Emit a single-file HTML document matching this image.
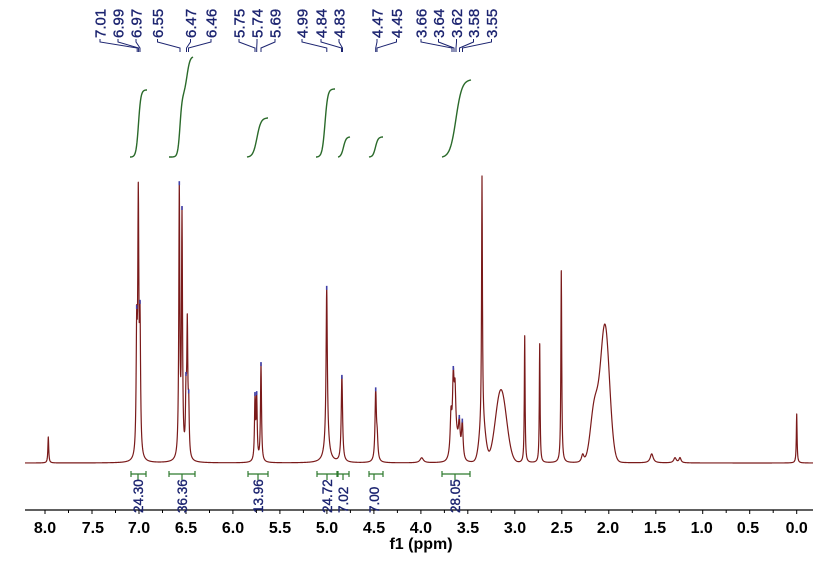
<!DOCTYPE html>
<html><head><meta charset="utf-8"><style>
html,body{margin:0;padding:0;background:#fff;}
svg{display:block;font-family:"Liberation Sans",Arial,sans-serif;}
</style></head><body>
<svg id="c" width="822" height="566" viewBox="0 0 822 566" xmlns="http://www.w3.org/2000/svg">
<rect width="822" height="566" fill="#fff"/>
<g id="ints" fill="none" stroke="#2a6a2a" stroke-width="1.4"></g>
<path id="spec" fill="none" stroke="#7a1a1a" stroke-width="1.2" stroke-linejoin="round"/>
<g id="marks" fill="#4040a8"></g>
<g id="pcon" fill="none" stroke="#1c2470" stroke-width="1"></g>
<g id="ibar" fill="none" stroke="#2f7a2f" stroke-width="1.2"></g>
<line x1="25" y1="510" x2="813" y2="510" stroke="#000" stroke-width="1.2"/>
<g id="ticks" stroke="#000" stroke-width="1"></g>
<g font-size="16" font-weight="bold" fill="#000" text-anchor="middle">
<text x="45" y="533">8.0</text><text x="92.9" y="533">7.5</text><text x="139.0" y="533">7.0</text><text x="186" y="533">6.5</text><text x="233" y="533">6.0</text><text x="280" y="533">5.5</text><text x="327" y="533">5.0</text><text x="374" y="533">4.5</text><text x="420.9" y="533">4.0</text><text x="468" y="533">3.5</text><text x="515" y="533">3.0</text><text x="561.7" y="533">2.5</text><text x="608" y="533">2.0</text><text x="655" y="533">1.5</text><text x="701.7" y="533">1.0</text><text x="748" y="533">0.5</text><text x="796.7" y="533">0.0</text>
<text x="421" y="549">f1 (ppm)</text>
</g>
<g fill="#1c2470" stroke="#1c2470" stroke-width="0.35" font-size="15">
<text transform="translate(105.5,38) rotate(-90)">7.01</text>
<text transform="translate(123.5,38) rotate(-90)">6.99</text>
<text transform="translate(141.5,38) rotate(-90)">6.97</text>
<text transform="translate(163,38) rotate(-90)">6.55</text>
<text transform="translate(196,38) rotate(-90)">6.47</text>
<text transform="translate(216.5,38) rotate(-90)">6.46</text>
<text transform="translate(244.5,38) rotate(-90)">5.75</text>
<text transform="translate(262.5,38) rotate(-90)">5.74</text>
<text transform="translate(280.5,38) rotate(-90)">5.69</text>
<text transform="translate(307.5,38) rotate(-90)">4.99</text>
<text transform="translate(326.5,38) rotate(-90)">4.84</text>
<text transform="translate(344.5,38) rotate(-90)">4.83</text>
<text transform="translate(382.5,38) rotate(-90)">4.47</text>
<text transform="translate(402,38) rotate(-90)">4.45</text>
<text transform="translate(426.5,38) rotate(-90)">3.66</text>
<text transform="translate(444,38) rotate(-90)">3.64</text>
<text transform="translate(462,38) rotate(-90)">3.62</text>
<text transform="translate(479,38) rotate(-90)">3.58</text>
<text transform="translate(497,38) rotate(-90)">3.55</text>
</g>
<g fill="#1c2470" stroke="#1c2470" stroke-width="0.35" font-size="13.5">
<text transform="translate(142.8,513) rotate(-90)">24.30</text>
<text transform="translate(186.8,513) rotate(-90)">36.36</text>
<text transform="translate(262.8,513) rotate(-90)">13.96</text>
<text transform="translate(331.8,513) rotate(-90)">24.72</text>
<text transform="translate(347.8,513) rotate(-90)">7.02</text>
<text transform="translate(378.8,513) rotate(-90)">7.00</text>
<text transform="translate(459.8,513) rotate(-90)">28.05</text>
</g>
</svg>
<script>
(function(){
var NS="http://www.w3.org/2000/svg";
function el(p,n,a){var e=document.createElementNS(NS,n);for(var k in a)e.setAttribute(k,a[k]);document.getElementById(p).appendChild(e);return e;}
var B=463;
var L=[[48.3,26,0.5],[136.7,117,0.65],[138.3,248,0.65],[140.0,126,0.65],
[179.3,268,0.6],[182,240,0.6],[186,58,0.6],[187.3,127,0.6],[188.7,47,0.6],
[255,62,0.6],[256.7,62,0.6],[261,98,0.6],
[326.7,150,0.7],[326.9,26,2.5],[341.9,86,0.8],[375.7,70,0.8],[377.2,20,0.8],
[421.7,5,2],
[451,36,0.9],[453.3,62,0.9],[455,46,0.9],[459.3,28,0.9],[462.3,36,0.9],
[482,249,0.5],[524.7,127,0.45],[539.7,119,0.45],[561.3,192,0.5],
[582.7,8,1.5],[605,5,6],[651.7,9,1.8],[675,5,1.5],[680,5,1.2],[796.7,49,0.45]];
var G=[[455.5,22,3.5],[482.5,38,3],[501,73,5.5],[605,132,4.5],[594.5,55,4]];
function f(x){var y=0,i,t;for(i=0;i<L.length;i++){t=(x-L[i][0])/L[i][2];y+=L[i][1]/(1+t*t);}for(i=0;i<G.length;i++){t=(x-G[i][0])/G[i][2];y+=G[i][1]*Math.exp(-0.5*t*t);}return y;}
var xs=[];for(var x=25;x<=813;x+=0.25)xs.push(x);
L.forEach(function(p){xs.push(p[0]);});xs.sort(function(a,b){return a-b;});
var d="";xs.forEach(function(x,i){d+=(i?"L":"M")+x.toFixed(2)+" "+(B-f(x)).toFixed(2);});
document.getElementById("spec").setAttribute("d",d);
[136.7,140.0,179.3,182,186,188.7,255,256.7,261,326.7,341.9,375.7,453.3,459.3,462.3].forEach(function(x){var y=B-f(x);el("marks","rect",{x:x-0.8,y:y-1,width:1.6,height:4});});
function sg(u){return 1/(1+Math.exp(-u));}
function integ(x0,x1,yb,steps){var d="";for(var x=x0;x<=x1+0.01;x+=0.5){var y=yb;steps.forEach(function(s){var a=sg((x0-s[0])/s[2]),b=sg((x1-s[0])/s[2]);y-=s[1]*(sg((x-s[0])/s[2])-a)/(b-a);});d+=(d?"L":"M")+x.toFixed(1)+" "+y.toFixed(1);}el("ints","path",{d:d});}
integ(130,147,157,[[138.5,67,1.2]]);
integ(169,193,157,[[180,62,1.1],[187,38,1.5]]);
integ(247,268,157,[[257,39,2.0]]);
integ(316,335,157,[[325,68,1.4]]);
integ(338,350,157,[[343.5,20,1.3]]);
integ(369,383,157,[[375.5,20,1.3]]);
integ(442,471,157,[[456,77,3.0]]);
var C=[[100,137.2],[118,138.6],[136,140],[157.5,180],[190.5,186.5],[211,188.5],[239,255],[257,256.7],[275,261],[302,326.8],[321,341.5],[339,342.5],[377,375.7],[396.5,377],[421,452],[438.5,454],[456.5,456],[473.5,459.5],[491.5,462.5]];
C.forEach(function(c){el("pcon","path",{d:"M"+c[0]+" 39L"+c[0]+" 42L"+c[1]+" 48L"+c[1]+" 52"});});
[[131,146,138],[169,195,182],[248,268,258],[317,337,327],[338,349,343],[369,383,374],[442,470,455]].forEach(function(b){
el("ibar","path",{d:"M"+b[0]+" 474H"+b[1]+"M"+b[0]+" 471V477M"+b[1]+" 471V477M"+b[2]+" 474V480"});});
for(var k=0;k<=32;k++){var p=k*0.25;var x=796.7-93.96*p;var len=(k%2==0)?4:3;el("ticks","line",{x1:x.toFixed(1),y1:510,x2:x.toFixed(1),y2:510+len});}
})();
</script>
</body></html>
